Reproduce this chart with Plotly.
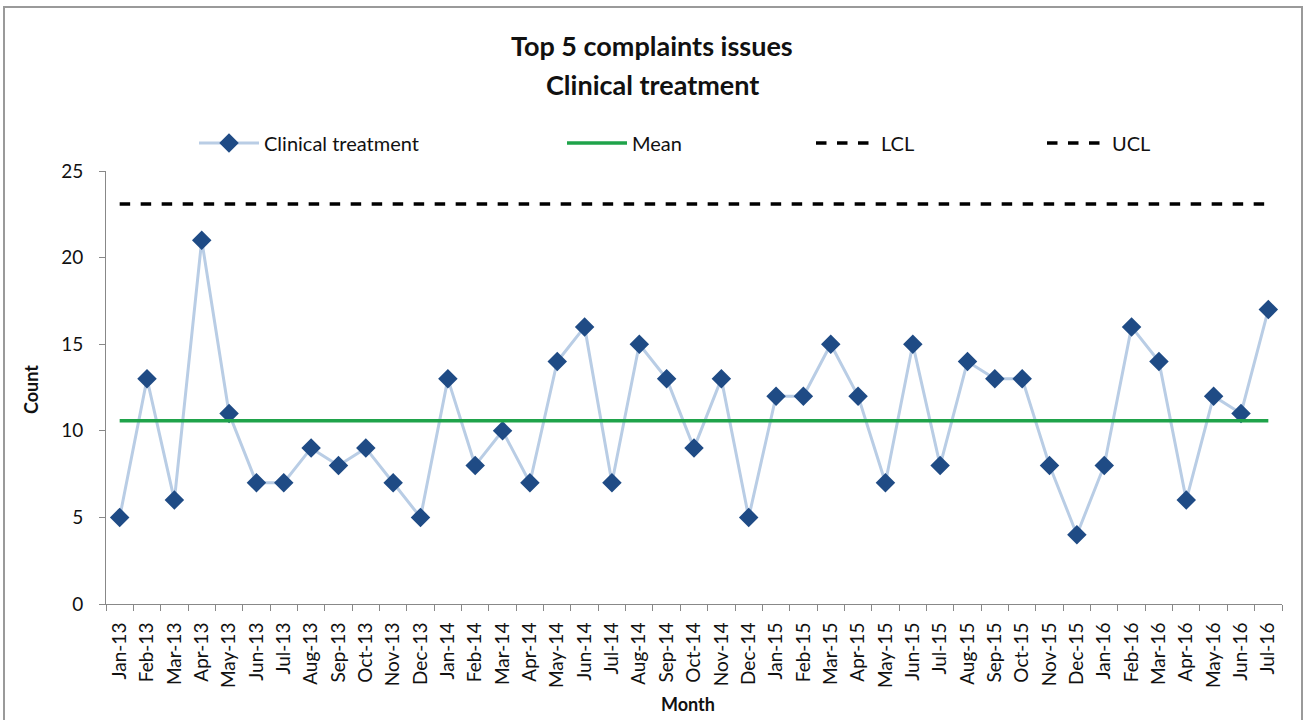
import plotly.graph_objects as go

months = [
    "Jan-13", "Feb-13", "Mar-13", "Apr-13", "May-13", "Jun-13", "Jul-13", "Aug-13",
    "Sep-13", "Oct-13", "Nov-13", "Dec-13", "Jan-14", "Feb-14", "Mar-14", "Apr-14",
    "May-14", "Jun-14", "Jul-14", "Aug-14", "Sep-14", "Oct-14", "Nov-14", "Dec-14",
    "Jan-15", "Feb-15", "Mar-15", "Apr-15", "May-15", "Jun-15", "Jul-15", "Aug-15",
    "Sep-15", "Oct-15", "Nov-15", "Dec-15", "Jan-16", "Feb-16", "Mar-16", "Apr-16",
    "May-16", "Jun-16", "Jul-16",
]
clinical_treatment = [
    5, 13, 6, 21, 11, 7, 7, 9, 8, 9, 7, 5,
    13, 8, 10, 7, 14, 16, 7, 15, 13, 9, 13, 5,
    12, 12, 15, 12, 7, 15, 8, 14, 13, 13, 8, 4,
    8, 16, 14, 6, 12, 11, 17,
]
mean_value = 10.58
lcl_value = -1.9
ucl_value = 23.1

FONT = "Lato"
W, H = 1304, 720
L, R, T, B = 106, 22, 171, 116
pw, ph = W - L - R, H - T - B


def px_x(x):
    return (x - L) / pw


def px_y(y):
    return (H - B - y) / ph


fig = go.Figure()

fig.add_trace(go.Scatter(
    x=months, y=clinical_treatment, name="Clinical treatment", mode="lines+markers",
    line=dict(color="#b9cde5", width=3),
    marker=dict(symbol="diamond", size=15, color="#1f4b85"),
    legend="legend",
))
fig.add_trace(go.Scatter(
    x=months, y=[mean_value] * len(months), name="Mean", mode="lines",
    line=dict(color="#1fa34a", width=3.5), legend="legend2",
))
fig.add_trace(go.Scatter(
    x=months, y=[lcl_value] * len(months), name="LCL", mode="lines",
    line=dict(color="#000000", width=3.5, dash="dash"), legend="legend3",
))
fig.add_trace(go.Scatter(
    x=months, y=[ucl_value] * len(months), name="UCL", mode="lines",
    line=dict(color="#000000", width=3.5, dash="dash"), legend="legend4",
))

legend_font = dict(family=FONT, size=20, color="#111111")


def legend_at(xpx):
    return dict(
        x=px_x(xpx), y=px_y(143), xanchor="left", yanchor="middle",
        orientation="h", font=legend_font, itemwidth=60,
        bgcolor="rgba(0,0,0,0)", tracegroupgap=0,
    )


fig.update_layout(
    width=W, height=H,
    margin=dict(l=L, r=R, t=T, b=B),
    paper_bgcolor="white", plot_bgcolor="white",
    legend=legend_at(194),
    legend2=legend_at(562),
    legend3=legend_at(811),
    legend4=legend_at(1042),
    showlegend=True,
    font=dict(family=FONT, color="#111111"),
)

fig.update_xaxes(
    type="category", range=[-0.5, len(months) - 0.5],
    tickson="boundaries", ticks="outside", ticklen=6, ticklabelstandoff=10,
    tickcolor="#888888", showline=True, linecolor="#888888", linewidth=1,
    showgrid=False, tickangle=-90,
    tickfont=dict(family=FONT, size=19, color="#111111"),
)
fig.update_yaxes(
    range=[0, 25], dtick=5, ticks="outside", ticklen=6, ticklabelstandoff=12,
    tickcolor="#888888",
    showline=True, linecolor="#888888", linewidth=1, showgrid=False, zeroline=False,
    tickfont=dict(family=FONT, size=19, color="#111111"),
)

# Title lines and axis titles
for line_text, ypx in [("Top 5 complaints issues", 46), ("Clinical treatment", 84)]:
    fig.add_annotation(text=f"<b>{line_text}</b>", xref="paper", yref="paper",
                       x=px_x(652), y=px_y(ypx), xanchor="center", yanchor="middle",
                       showarrow=False, font=dict(family=FONT, size=27, color="#111111"))
fig.add_annotation(text="<b>Month</b>", xref="paper", yref="paper",
                   x=px_x(688), y=px_y(704), xanchor="center", yanchor="middle",
                   showarrow=False, font=dict(family=FONT, size=18, color="#111111"))
fig.add_annotation(text="<b>Count</b>", xref="paper", yref="paper",
                   x=px_x(31), y=px_y(390), xanchor="center", yanchor="middle",
                   showarrow=False, textangle=-90,
                   font=dict(family=FONT, size=18, color="#111111"))

# Chart border
fig.add_shape(type="rect", xref="paper", yref="paper",
              x0=px_x(4), x1=px_x(1302), y0=px_y(725), y1=px_y(7),
              line=dict(color="#9a9a9a", width=2), layer="below")

fig.write_html("out.html")
